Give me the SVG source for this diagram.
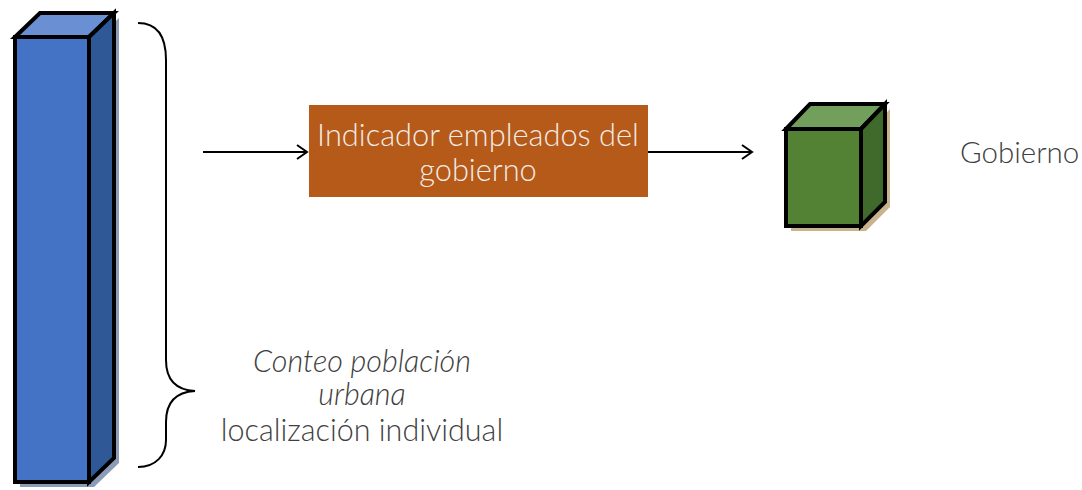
<svg xmlns="http://www.w3.org/2000/svg" width="1082" height="490" viewBox="0 0 1082 490">
<defs>
<style>
.t{font-family:"Source Sans Pro","Lato","Open Sans",sans-serif;font-weight:300;fill:#404040;font-size:30.5px}
.g{font-size:29.5px}
.bt{font-family:"Source Sans Pro","Lato","Open Sans",sans-serif;font-weight:300;fill:#f4ece6;font-size:30.8px}
.edge{stroke:#000;stroke-width:2;fill:none}
.cube{stroke:#000;stroke-width:4;stroke-linejoin:miter}
</style>
<marker id="arr" markerWidth="14" markerHeight="16" refX="12" refY="8" orient="auto" markerUnits="userSpaceOnUse">
<path d="M2,1 L12,8 L2,15" fill="none" stroke="#000" stroke-width="2"/>
</marker>
</defs>
<rect width="1082" height="490" fill="#fff"/>
<g id="bar">
<polygon points="20,487 94,487 119,463 119,18 94,42 20,42" fill="#8c9cb8"/>
<polygon points="15,37 89,37 89,482 15,482" class="cube" fill="#4472c4"/>
<polygon points="15,37 40,13 114,13 89,37" class="cube" fill="#6a8fd2"/>
<polygon points="89,37 114,13 114,458 89,482" class="cube" fill="#2f5897"/>
</g>
<g id="brace">
<path d="M138,23 C158,23 166,38 166,60 L166,360 C166,380 176,390 195,391 C176,392 166,402 166,422 L166,440 C166,455 156,467 138,467" class="edge"/>
</g>
<g id="cube">
<polygon points="791,231 866,231 890,207 890,109 866,134 791,134" fill="#c8b38c"/>
<polygon points="786,129 861,129 861,226 786,226" class="cube" fill="#548235"/>
<polygon points="786,129 810,104 885,104 861,129" class="cube" fill="#72a05c"/>
<polygon points="861,129 885,104 885,202 861,226" class="cube" fill="#3f6a2b"/>
</g>
<g id="indicador">
<rect x="309" y="105" width="339" height="92" fill="#b55a19"/>
<text class="bt" x="478" y="146" text-anchor="middle">Indicador empleados del</text>
<text class="bt" x="478" y="181" text-anchor="middle">gobierno</text>
</g>
<g id="connectors">
<line x1="203" y1="152" x2="307" y2="152" class="edge" marker-end="url(#arr)"/>
<line x1="648" y1="152" x2="752" y2="152" class="edge" marker-end="url(#arr)"/>
</g>
<g id="gobierno">
<text class="t g" x="960" y="163">Gobierno</text>
</g>
<g id="conteo">
<text class="t" x="362" y="372" text-anchor="middle" font-style="italic">Conteo población</text>
<text class="t" x="362" y="405" text-anchor="middle" font-style="italic">urbana</text>
<text class="t" x="362" y="441" text-anchor="middle">localización individual</text>
</g>
</svg>
